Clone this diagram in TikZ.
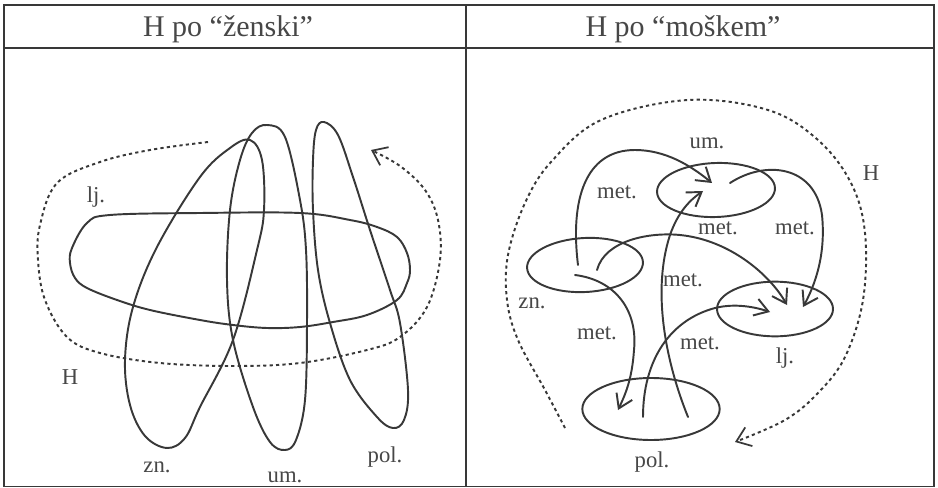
\documentclass[tikz,border=0pt]{standalone}
\usepackage{fontspec}
\setmainfont{Liberation Serif}
\usetikzlibrary{arrows.meta,shapes.geometric}
\definecolor{ink}{HTML}{383838}
\definecolor{txt}{HTML}{474747}
\begin{document}
\begin{tikzpicture}[x=0.75pt,y=-0.75pt,
  curve/.style={draw=ink,line width=1.45pt,line join=round,line cap=round},
  dots/.style={draw=ink,line width=1.45pt,dash pattern=on 2.4pt off 2.4pt},
  barb/.style={-{Straight Barb[length=10pt,width=13pt]}},
  dbarb/.style={-{Straight Barb[length=10pt,width=15pt,line width=1.3pt]}},
  ell/.style={ellipse,draw=ink,line width=1.45pt,inner sep=0pt},
  lab/.style={text=txt,font=\fontsize{17}{20}\selectfont,inner sep=0pt},
  head/.style={text=txt,font=\fontsize{22.5}{26}\selectfont,inner sep=0pt,anchor=base}]
\useasboundingbox (0,0) rectangle (938,488);
\fill[white] (0,0) rectangle (938,488);
% frame
\draw[ink,line width=1.1pt] (4,5) rectangle (934,486.5);
\draw[ink,line width=1.1pt] (4,48) -- (934,48);
\draw[ink,line width=1.1pt] (466,5) -- (466,486.5);
\node[head] (hl) at (228,37) {H po “ženski”};
\node[head] (hr) at (683,37) {H po “moškem”};

% ---------- left panel ----------
% lj. blob
\draw[curve] plot[smooth cycle,tension=0.6] coordinates {
 (72,248) (87,223) (110,215) (200,213) (300,213) (350,220) (377,227)
 (397,237) (407,253) (410,270) (407,283) (397,300) (367,315) (333,322)
 (300,327) (267,328) (233,325) (200,320) (150,310) (117,300) (87,288)
 (75,278) (70,263)};
% zn. loop
\draw[curve] plot[smooth cycle,tension=0.6] coordinates {
 (167,448) (145,436) (130,405) (125,360) (133,307) (157,247) (200,177)
 (230,148) (250,140) (262,160) (264,210) (257,250) (233,340) (200,407)
 (185,438)};
% um. loop
\draw[curve] plot[smooth cycle,tension=0.6] coordinates {
 (267,125) (285,137) (300,200) (306,250) (307,323) (305,400) (296,440)
 (285,450) (270,442) (253,407) (233,340) (227,280) (230,210) (240,160)
 (252,133)};
% pol. loop
\draw[curve] plot[smooth cycle,tension=0.6] coordinates {
 (324,122) (338,135) (353,177) (370,230) (390,290) (400,323) (408,390)
 (404,420) (393,428) (377,417) (350,380) (330,323) (318,270) (313,210)
 (313,160) (316,130)};
% dotted H
\draw[dots,dbarb] plot[smooth,tension=0.6] coordinates {
 (208,142) (150,150) (100,162) (57,183) (40,225) (38,260) (45,300)
 (67,337) (100,353) (160,363) (233,366) (300,363) (367,350) (400,337)
 (427,307) (440,260) (438,220) (425,190) (400,166) (371,150)};
\node[lab] (llj) at (96,197) {lj.};
\node[lab] (lH) at (70,377) {H};
\node[lab] (lzn) at (157,467) {zn.};
\node[lab] (lum) at (285,477) {um.};
\node[lab] (lpol) at (385,457) {pol.};

% ---------- right panel ----------
\node[ell,minimum width=88.5pt,minimum height=40.5pt,rotate=2] (um) at (716,190) {};
\node[ell,minimum width=87pt,minimum height=40.5pt,rotate=3] (zn) at (585,265) {};
\node[ell,minimum width=87pt,minimum height=41pt] (lj) at (775,309) {};
\node[ell,minimum width=103pt,minimum height=46.5pt] (pol) at (651,409) {};

\coordinate (a1s) at (578,265); \coordinate (a1e) at (712,183);
\coordinate (a2s) at (730,183); \coordinate (a2e) at (803,307);
\coordinate (a3s) at (597,270); \coordinate (a3e) at (787,305);
\coordinate (a4s) at (575,275); \coordinate (a4e) at (618,410);
\coordinate (a5s) at (688,417); \coordinate (a5e) at (703,191);
\coordinate (a6s) at (643,417); \coordinate (a6e) at (770,312);

\draw[curve,barb] (a1s) .. controls (570,200) and (585,150) .. (635,150)
   .. controls (665,150) and (690,165) .. (a1e);
\draw[curve,barb] (a2s) .. controls (765,160) and (815,165) .. (822,215)
   .. controls (826,255) and (815,285) .. (a2e);
\draw[curve,barb] (a3s) .. controls (605,240) and (650,232) .. (680,235)
   .. controls (730,240) and (770,275) .. (a3e);
\draw[curve,barb] (a4s) .. controls (615,280) and (638,310) .. (634,350)
   .. controls (632,380) and (625,395) .. (a4e);
\draw[curve,barb] (a5s) .. controls (665,360) and (652,290) .. (670,235)
   .. controls (678,212) and (690,200) .. (a5e);
\draw[curve,barb] (a6s) .. controls (643,360) and (670,320) .. (715,308)
   .. controls (735,303) and (755,307) .. (a6e);

% dotted H circle
\draw[dots,dbarb] plot[smooth,tension=0.6] coordinates {
 (565,428) (545,390) (518,340) (507,300) (508,255) (525,203) (551,162)
 (601,120) (688,100) (768,110) (818,140) (851,183) (865,233) (863,300)
 (845,357) (818,393) (785,420) (735,442)};

\node[lab] (rum) at (707,143) {um.};
\node[lab] (rH) at (871,173) {H};
\node[lab] (m1) at (617,192) {met.};
\node[lab] (m2) at (718,228) {met.};
\node[lab] (m3) at (795,228) {met.};
\node[lab] (m4) at (683,280) {met.};
\node[lab] (rzn) at (532,303) {zn.};
\node[lab] (m5) at (597,333) {met.};
\node[lab] (m6) at (700,343) {met.};
\node[lab] (rlj) at (785,358) {lj.};
\node[lab] (rpol) at (652,462) {pol.};
\end{tikzpicture}
\end{document}
